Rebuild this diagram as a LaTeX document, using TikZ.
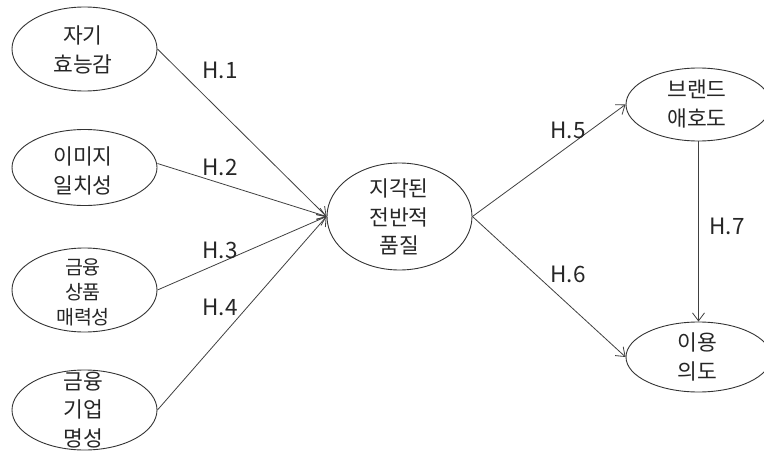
\documentclass[tikz,border=0pt]{standalone}
\usepackage{fontspec}
\setmainfont{Noto Sans CJK KR}
\usetikzlibrary{arrows.meta,shapes.geometric}
\begin{document}
\begin{tikzpicture}[x=1pt,y=-1pt,
  el/.style={draw=black!80, line width=0.9pt, ellipse, inner sep=0pt, minimum width=145pt},
  txt/.style={align=center, inner sep=0pt, font=\fontsize{21.5}{28.5}\selectfont, text=black!85},
  stxt/.style={align=center, inner sep=0pt, font=\fontsize{19.5}{25}\selectfont, text=black!85},
  hl/.style={inner sep=0pt, font=\fontsize{22.5}{24}\selectfont, text=black!85},
  arr/.style={draw=black!75, line width=0.8pt, -{Straight Barb[length=8pt,width=12pt]}}]
\useasboundingbox (0,0) rectangle (764,455);
% ellipses
\node[el, minimum height=84pt] (e1) at (84.5,49) {};
\node[el, minimum height=76pt] (e2) at (84.5,167.5) {};
\node[el, minimum height=84pt] (e3) at (84.5,290) {};
\node[el, minimum height=80pt] (e4) at (84.5,410) {};
\node[el, minimum height=107pt] (c) at (399.5,216.5) {};
\node[el, minimum height=73pt] (b) at (698.5,104.5) {};
\node[el, minimum height=70pt] (u) at (698.5,357) {};
% texts
\node[txt] (t1) at (83,50) {자기\\효능감};
\node[txt] (t2) at (83,171) {이미지\\일치성};
\node[stxt] (t3) at (83,292) {금융\\상품\\매력성};
\node[txt] (t4) at (83,410) {금융\\기업\\명성};
\node[txt] (tc) at (399,217) {지각된\\전반적\\품질};
\node[txt] (tb) at (697,104) {브랜드\\애호도};
\node[txt] (tu) at (697,357) {이용\\의도};
% connectors
\draw[arr] (e1.east) -- (c.west);
\draw[arr] ([yshift=4pt]e2.east) -- (c.west);
\draw[arr] (e3.east) -- (c.west);
\draw[arr] (e4.east) -- (c.west);
\draw[arr] (c.east) -- (b.west);
\draw[arr] (c.east) -- (u.west);
\draw[arr] (b.south) -- (u.north);
% labels
\node[hl] (h1) at (220,70) {H.1};
\node[hl] (h2) at (220,167) {H.2};
\node[hl] (h3) at (220,250) {H.3};
\node[hl] (h4) at (220,307) {H.4};
\node[hl] (h5) at (568,130) {H.5};
\node[hl] (h6) at (568,274) {H.6};
\node[hl] (h7) at (727,226) {H.7};
\end{tikzpicture}
\end{document}
